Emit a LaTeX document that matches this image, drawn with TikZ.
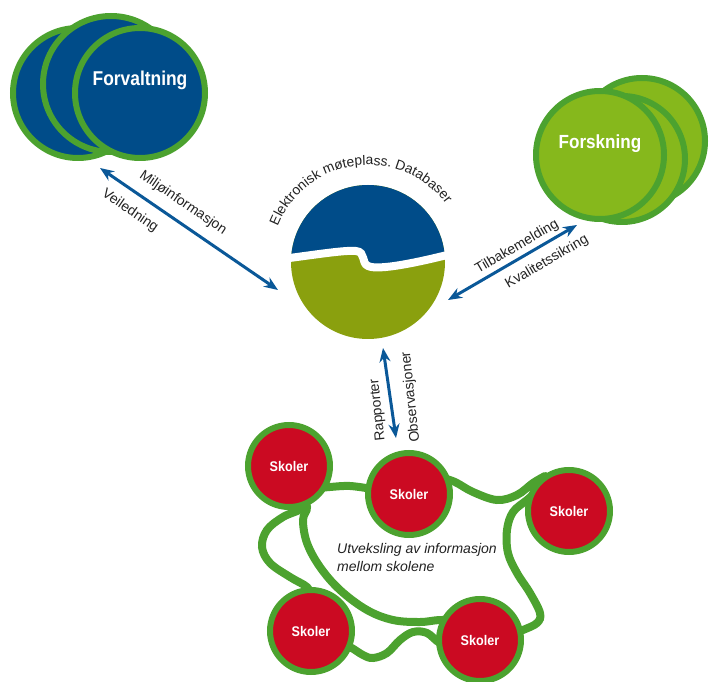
\documentclass[tikz,border=0pt]{standalone}
\usepackage{fontspec}
\setmainfont{Liberation Sans}
\usetikzlibrary{arrows.meta,decorations.text}
\definecolor{fvblue}{HTML}{004C89}
\definecolor{rimgreen}{HTML}{4CA22F}
\definecolor{fogreen}{HTML}{86B81C}
\definecolor{olivegreen}{HTML}{8AA00E}
\definecolor{skred}{HTML}{CB0A22}
\definecolor{arrblue}{HTML}{0A5898}
\definecolor{txtgray}{HTML}{222222}
\begin{document}
\begin{tikzpicture}[x=1pt,y=1pt,
  ring/.style={circle, draw=rimgreen, line width=6pt, inner sep=0pt},
  fvcircle/.style={ring, fill=fvblue},
  focircle/.style={ring, fill=fogreen},
  skcircle/.style={ring, fill=skred, minimum size=82pt, text=white,
    font=\fontsize{14}{16}\selectfont\bfseries},
  loopline/.style={draw=rimgreen, line width=8pt, line cap=round},
  flow/.style={draw=arrblue, line width=3pt,
    {Stealth[length=14pt,width=11pt]}-{Stealth[length=14pt,width=11pt]}},
  lbl/.style={text=txtgray, font=\fontsize{14}{16}\selectfont, inner sep=0pt},
  bigtxt/.style={text=white, inner sep=0pt},
]
\useasboundingbox (0,0) rectangle (712,681);

% Forvaltning circles
\node[fvcircle, minimum size=130pt] (fv1) at (78,588) {};
\node[fvcircle, minimum size=136pt] (fv2) at (111,597) {};
\node[fvcircle, minimum size=130pt] (fv3) at (140,588) {};
\node[bigtxt] (fvt) at (140,601) {\scalebox{0.87}[1]{\fontsize{20}{22}\selectfont\bfseries Forvaltning}};

% Forskning circles
\node[focircle, minimum size=126pt] (fo1) at (642,540) {};
\node[focircle, minimum size=126pt] (fo2) at (622,522) {};
\node[focircle, minimum size=128pt] (fo3) at (600,526) {};
\node[bigtxt] (fot) at (600,537) {\scalebox{0.9}[1]{\fontsize{19}{21}\selectfont\bfseries Forskning}};

% central circle
\node[circle, minimum size=154pt, inner sep=0pt] (mid) at (368,419) {};
\fill[olivegreen] (mid.center) circle (77);
\begin{scope}
  \clip (mid.center) circle (77);
  \fill[fvblue] (282,422) .. controls (320,427) and (345,431) .. (356,430)
     .. controls (366,429) and (361,418) .. (368,415)
     .. controls (378,410) and (420,419) .. (455,428) -- (455,500) -- (282,500) -- cycle;
\end{scope}
\draw[white, line width=8pt] (282,422) .. controls (320,427) and (345,431) .. (356,430)
     .. controls (366,429) and (361,418) .. (368,415)
     .. controls (378,410) and (420,419) .. (455,428);
\path[postaction={decorate}, decoration={text along path, text align=center,
   text={|\fontsize{13.8}{16}\selectfont\color{txtgray}|Elektronisk møteplass. Databaser}}]
   (mid.center) ++(165:97) arc[start angle=165, end angle=30, radius=97];

% arrows
\coordinate (a1) at (100,513);
\coordinate (a2) at (278,391);
\coordinate (b1) at (448,381);
\coordinate (b2) at (577,456);
\coordinate (c1) at (383,333);
\coordinate (c2) at (396,243);
\draw[flow] (a1) -- (a2);
\draw[flow] (b1) -- (b2);
\draw[flow] (c1) -- (c2);
\node[lbl, rotate=-34.4] (l1) at (183,478) {Miljøinformasjon};
\node[lbl, rotate=-34.4] (l2) at (130,470) {Veiledning};
\node[lbl, rotate=30.2] (l3) at (517,434) {Tilbakemelding};
\node[lbl, rotate=30.2] (l4) at (547,419) {Kvalitetssikring};
\node[lbl, rotate=96] (l5) at (378,271) {Rapporter};
\node[lbl, rotate=96] (l6) at (411,284) {Observasjoner};

% loop lines between schools
\draw[loopline] plot[smooth, tension=0.6] coordinates {(310,192) (330,194) (350,195) (372,192)};
\draw[loopline] plot[smooth, tension=0.6] coordinates {(440,204) (455,199) (473,189) (497,181) (517,186) (533,198) (545,205)};
\draw[loopline] plot[smooth, tension=0.6] coordinates {(535,188) (527,181) (513,169) (507,151) (508,128) (517,108) (530,88) (540,68) (537,58) (523,51) (510,46)};
\draw[loopline] plot[smooth, tension=0.6] coordinates {(335,40) (350,34) (363,26) (373,23) (387,28) (400,41) (413,49) (427,48) (440,38) (455,36)};
\draw[loopline] plot[smooth, tension=0.6] coordinates {(311,85) (307,94) (290,104) (270,118) (262,134) (267,151) (283,164) (303,174) (300,190)};
\draw[loopline] plot[smooth, tension=0.6] coordinates {(300,190) (307,174) (303,161) (307,138) (320,114) (340,91) (367,71) (393,61) (420,59) (440,61) (460,60)};

% schools
\node[skcircle] (s1) at (289,215) {\scalebox{0.9}[1]{Skoler}};
\node[skcircle] (s2) at (409,187) {\scalebox{0.9}[1]{Skoler}};
\node[skcircle] (s3) at (569,170) {\scalebox{0.9}[1]{Skoler}};
\node[skcircle] (s4) at (311,50) {\scalebox{0.9}[1]{Skoler}};
\node[skcircle] (s5) at (480,41) {\scalebox{0.9}[1]{Skoler}};

\node[lbl, anchor=west, align=left, font=\fontsize{14}{18}\selectfont\itshape] (ut) at (337,124)
  {Utveksling av informasjon\\mellom skolene};
\end{tikzpicture}
\end{document}
